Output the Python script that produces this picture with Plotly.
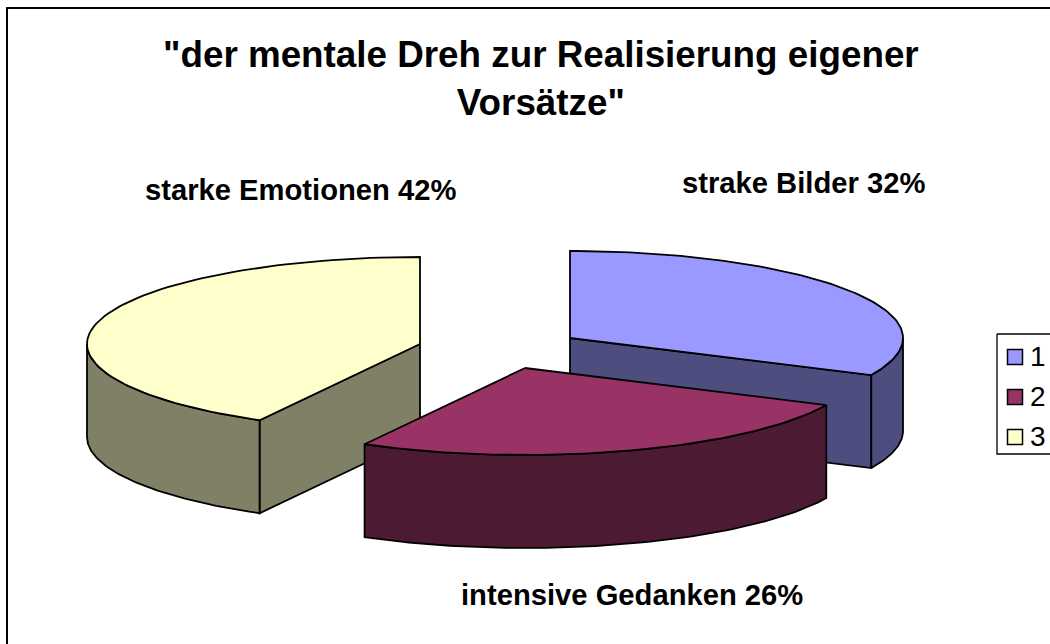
import numpy as np
import plotly.graph_objects as go

# Data
series_names = ["1", "2", "3"]
shares = [32, 26, 42]
slice_labels = ["strake Bilder 32%", "intensive Gedanken 26%", "starke Emotionen 42%"]
title_lines = ['"der mentale Dreh zur Realisierung eigener', 'Vorsätze"']

# Style
top_colors = ["#9999FF", "#993366", "#FFFFCC"]
side_colors = ["#4D4D80", "#4D1A33", "#808066"]
W, H = 1050, 644
RX, RY, DEPTH = 333, 87, 93
apexes = [(570, 338), (525, 368), (420, 344)]   # exploded slice centres, pixel space
label_pos = [(803, 183), (632, 595), (300, 190)]
legend_rows = np.array([357, 397, 437])


def rim(cx, cy, a0, a1, dy=0):
    t = np.radians(np.linspace(a0, a1, 90))
    return cx + RX * np.sin(t), cy + dy - RY * np.cos(t)


def poly(xs, ys, color, width=1.8):
    return go.Scatter(x=np.r_[xs, xs[0]], y=np.r_[ys, ys[0]], mode="lines", fill="toself",
                      fillcolor=color, line=dict(color="black", width=width),
                      showlegend=False, hoverinfo="skip")


fig = go.Figure()

# chart-area frame (only its top and left edges fall inside the page)
fig.add_trace(go.Scatter(x=[7, 7, W + 20], y=[H + 20, 8, 8], mode="lines",
                         line=dict(color="black", width=2), showlegend=False, hoverinfo="skip"))

# slice angles, clockwise from 12 o'clock
edges = np.r_[0, np.cumsum(shares)] / sum(shares) * 360
spans = [(edges[i], edges[i + 1]) for i in range(len(shares))]

for i in [0, 2, 1]:  # back to front
    a0, a1 = spans[i]
    cx, cy = apexes[i]
    # radial wall facing the viewer
    if i == 0:
        ex, ey = rim(cx, cy, a1, a1)
        ex, ey = ex[0], ey[0]
        fig.add_trace(poly(np.array([cx, ex, ex, cx]), np.array([cy, ey, ey + DEPTH, cy + DEPTH]), side_colors[i]))
    if i == 2:
        ex, ey = rim(cx, cy, a0, a0)
        ex, ey = ex[0], ey[0]
        fig.add_trace(poly(np.array([cx, ex, ex, cx]), np.array([cy, ey, ey + DEPTH, cy + DEPTH]), side_colors[i]))
    # outer wall: front half of the rim only
    w0, w1 = max(a0, 90), min(a1, 270)
    if w1 > w0:
        tx, ty = rim(cx, cy, w0, w1)
        bx, by = rim(cx, cy, w0, w1, DEPTH)
        fig.add_trace(poly(np.r_[tx, bx[::-1]], np.r_[ty, by[::-1]], side_colors[i]))
    # top face
    tx, ty = rim(cx, cy, a0, a1)
    fig.add_trace(poly(np.r_[cx, tx], np.r_[cy, ty], top_colors[i]))

# legend box, running off the right edge of the page as in the source
fig.add_trace(poly(np.array([997, W + 20, W + 20, 997]), np.array([334, 334, 454, 454]), "white", 1.3))
fig.add_trace(go.Scatter(x=[1015] * 3, y=legend_rows, mode="markers", showlegend=False, hoverinfo="skip",
                         marker=dict(symbol="square", size=15, color=top_colors,
                                     line=dict(color="black", width=1.5))))
fig.add_trace(go.Scatter(x=[1030] * 3, y=legend_rows + 2, mode="text", text=series_names,
                         textposition="middle right", showlegend=False, hoverinfo="skip",
                         textfont=dict(family="Liberation Sans", size=28, color="black")))

annotations = [dict(x=x, y=y, text=t, showarrow=False, xanchor="center", yanchor="middle",
                    font=dict(family="Liberation Sans", size=29.2, color="black"))
               for t, (x, y) in zip(["<b>%s</b>" % s for s in slice_labels], label_pos)]
annotations.append(dict(x=540.5, y=78, text="<b>" + "<br>".join(title_lines) + "</b>", showarrow=False,
                        xanchor="center", yanchor="middle", align="center",
                        font=dict(family="Liberation Sans", size=36.8, color="black")))

fig.update_layout(
    width=W, height=H, margin=dict(l=0, r=0, t=0, b=0, autoexpand=False), autosize=False,
    paper_bgcolor="white", plot_bgcolor="white", showlegend=False,
    xaxis=dict(range=[0, W], visible=False, fixedrange=True),
    yaxis=dict(range=[H, 0], visible=False, fixedrange=True),
    annotations=annotations,
)
fig.write_html("out.html", config=dict(displayModeBar=False),
               post_script="document.body.style.margin='0';document.documentElement.style.overflow='hidden';")
